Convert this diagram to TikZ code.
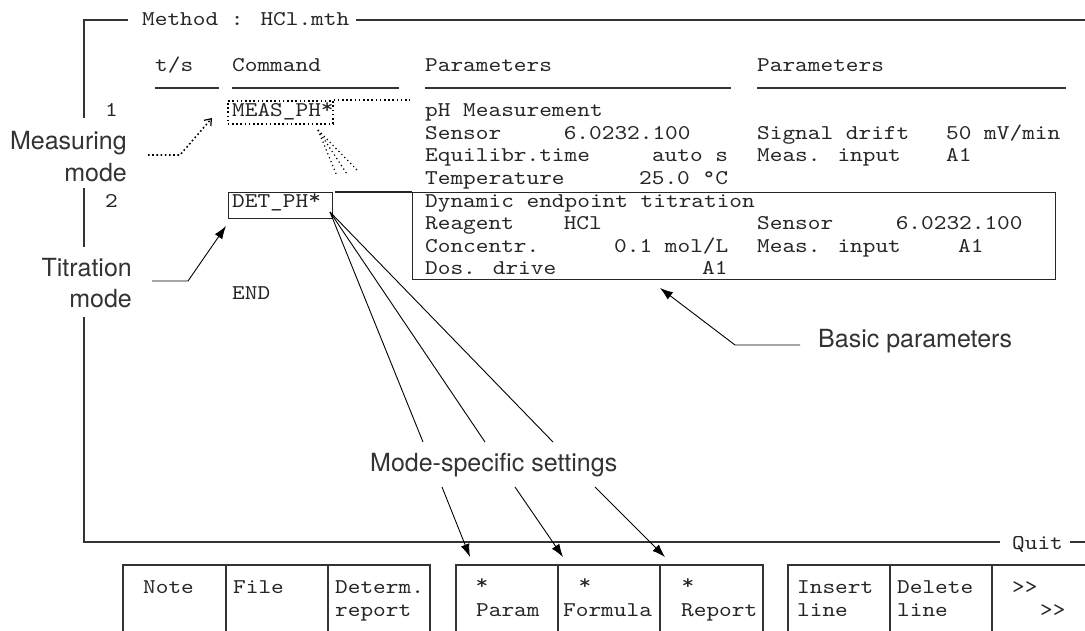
\documentclass[tikz,border=0pt]{standalone}
\usepackage{fontspec}
\setmainfont{TeX Gyre Heros}
\newfontfamily\monof[FakeStretch=1.15]{lmmono10-regular.otf}
\newcommand\hstar{\raisebox{3.5pt}{*}}
\usetikzlibrary{arrows.meta}
\tikzset{
  mono/.style={font=\monof\fontsize{21}{22}\selectfont, inner sep=0pt, anchor=base west, text=black!85},
  monoc/.style={mono, anchor=base},
  lbl/.style={font=\fontsize{25}{30}\selectfont, inner sep=0pt, text=black!80},
  frame/.style={line width=1.3pt, draw=black!80},
  uline/.style={line width=1.3pt, draw=black!80},
  boxd/.style={draw=black!85, line width=1.2pt, inner sep=0pt, anchor=north west},
  dotbox/.style={draw=black, line width=1.6pt, dash pattern=on 1.6pt off 2.6pt, inner sep=0pt, anchor=north west},
  dots/.style={line width=1.6pt, dash pattern=on 1.6pt off 2.6pt},
  thindots/.style={line width=1.2pt, dash pattern=on 1.2pt off 3pt},
  fan/.style={line width=0.9pt, draw=black},
  ptr/.style={line width=0.9pt, draw=black, -{Latex[length=13pt,width=9pt]}},
}
\begin{document}
\begin{tikzpicture}[x=1pt,y=-1pt]
\useasboundingbox[fill=white] (0,0) rectangle (1085,631);

% ---- outer frame
\coordinate (ftl) at (84,20);
\coordinate (ft1) at (128,20);
\coordinate (ft2) at (356,20);
\coordinate (ftr) at (1085,20);
\coordinate (fl1) at (84,118);
\coordinate (fl2) at (84,188);
\coordinate (fl3) at (84,247);
\coordinate (fl4) at (84,317);
\coordinate (fbl) at (84,542);
\coordinate (fb1) at (1000,542);
\coordinate (fb2) at (1070,542);
\coordinate (fbr) at (1085,542);
\draw[frame] (ft1) -- (ftl) -- (fl1);
\draw[frame] (ft2) -- (ftr);
\draw[frame] (fl2) -- (fl3);
\draw[frame] (fl4) -- (fbl) -- (fb1);
\draw[frame] (fb2) -- (fbr);
\node[mono] (title) at (142,26) {Method : HCl.mth};
\node[mono] (quit) at (1012,549) {Quit};

% ---- header
\node[mono] (hts) at (155,72) {t/s};
\node[mono] (hcmd) at (232,72) {Command};
\node[mono] (hp1) at (425,72) {Parameters};
\node[mono] (hp2) at (757,72) {Parameters};
\draw[uline] (155,88) -- (219,88);
\draw[uline] (232,88) -- (399,88);
\draw[uline] (425,88) -- (731,88);
\draw[uline] (757,88) -- (1066,88);

% ---- line numbers and commands
\node[mono] (n1) at (105,117) {1};
\node[mono] (n2) at (105,208) {2};
\node[dotbox, minimum width=105pt, minimum height=23pt] (measbox) at (227,100) {};
\node[mono] (meas) at (232,117) {MEAS\_PH\hstar};
\coordinate (measend) at (410,100);
\draw[dots] (measbox.north east) -- (measend);
\node[boxd, minimum width=104pt, minimum height=26pt] (detbox) at (228,192) {};
\node[mono] (det) at (232,208) {DET\_PH\hstar};
\node[mono] (endc) at (232,299) {END};

% ---- parameters of MEAS_PH
\node[mono] (p1a) at (425,117) {pH Measurement};
\node[mono] (p1b) at (425,139.5) {Sensor};
\node[mono] (p1bv) at (563.6,139.5) {6.0232.100};
\node[mono] (p1c) at (425,162) {Equilibr.time};
\node[mono] (p1cv) at (651.8,162) {auto s};
\node[mono] (p1d) at (425,184.5) {Temperature};
\node[mono] (p1dv) at (639,184.5) {25.0 °C};
\node[mono] (q1b) at (757,139.5) {Signal drift};
\node[mono] (q1bv) at (946,139.5) {50 mV/min};
\node[mono] (q1c) at (757,162) {Meas. input};
\node[mono] (q1cv) at (946,162) {A1};

% ---- parameters of DET_PH (basic parameter box)
\node[boxd, minimum width=643pt, minimum height=87pt] (basicbox) at (412,192) {};
\coordinate (detext) at (335,192);
\draw[boxd] (detext) -- (basicbox.north west);
\node[mono] (p2a) at (425,207.5) {Dynamic endpoint titration};
\node[mono] (p2b) at (425,230) {Reagent};
\node[mono] (p2bv) at (563.6,230) {HCl};
\node[mono] (p2c) at (425,252.5) {Concentr.};
\node[mono] (p2cv) at (614,252.5) {0.1 mol/L};
\node[mono] (p2d) at (425,275) {Dos. drive};
\node[mono] (p2dv) at (702,275) {A1};
\node[mono] (q2b) at (757,230) {Sensor};
\node[mono] (q2bv) at (895.6,230) {6.0232.100};
\node[mono] (q2c) at (757,252.5) {Meas. input};
\node[mono] (q2cv) at (958,252.5) {A1};

% ---- labels
\node[lbl, anchor=base east] (lm1) at (127,150) {Measuring};
\node[lbl, anchor=base east] (lm2) at (127,182) {mode};
\node[lbl, anchor=base east] (lt1) at (132,277) {Titration};
\node[lbl, anchor=base east] (lt2) at (132,308) {mode};
\node[lbl, anchor=base west] (lbasic) at (818,347) {Basic parameters};
\node[lbl, anchor=base west] (lmode) at (370,471) {Mode-specific settings};

% ---- measuring mode arrow (dotted)
\coordinate (mm0) at (148,155);
\coordinate (mm1) at (180,155);
\coordinate (mm2) at (212,118);
\draw[dots, -{Straight Barb[length=6pt,width=9pt,line width=1.2pt]}] (mm0) -- (mm1) -- (mm2);
% dotted fan below MEAS_PH*
\coordinate (mf0) at (318,130);
\coordinate (mf1) at (337,176);
\coordinate (mf2) at (347,174);
\coordinate (mf3) at (358,171);
\draw[thindots] (mf0) -- (mf1);
\draw[thindots] (mf0) -- (mf2);
\draw[thindots] (mf0) -- (mf3);

% ---- titration mode arrow
\coordinate (tm0) at (152,281);
\coordinate (tm1) at (188,281);
\coordinate (tm2) at (226,226);
\draw[ptr] (tm0) -- (tm1) -- (tm2);

% ---- basic parameters arrow
\coordinate (bp0) at (800,345);
\coordinate (bp1) at (735,345);
\coordinate (bp2) at (660,288);
\draw[ptr] (bp0) -- (bp1) -- (bp2);

% ---- mode-specific fan
\coordinate (df) at (330,212);
\coordinate (fe1) at (423,442);
\coordinate (fe2) at (485,442);
\coordinate (fe3) at (553,442);
\draw[fan] (df) -- (fe1);
\draw[fan] (df) -- (fe2);
\draw[fan] (df) -- (fe3);

% ---- soft keys
\coordinate (g1l) at (123,631); \coordinate (g1r) at (430,565);
\coordinate (g2l) at (456,631); \coordinate (g2r) at (763,565);
\coordinate (g3l) at (788,631); \coordinate (g3r) at (1094,565);
\draw[frame] (g1l) |- (g1r) -- (430,631);
\draw[frame] (226,565) -- (226,631);
\draw[frame] (328,565) -- (328,631);
\draw[frame] (g2l) |- (g2r) -- (763,631);
\draw[frame] (558,565) -- (558,631);
\draw[frame] (660,565) -- (660,631);
\draw[frame] (g3l) |- (g3r);
\draw[frame] (890,565) -- (890,631);
\draw[frame] (992,565) -- (992,631);

\node[mono] (kn) at (143,593) {Note};
\node[mono] (kf) at (233,593) {File};
\node[mono] (kd1) at (335,593) {Determ.};
\node[mono] (kd2) at (335,616) {report};
\node[monoc] (kp1) at (482,593) {\hstar};
\node[mono] (kp2) at (476,616) {Param};
\node[monoc] (kfo1) at (585,593) {\hstar};
\node[mono] (kfo2) at (563,616) {Formula};
\node[monoc] (kr1) at (688,593) {\hstar};
\node[mono] (kr2) at (681,616) {Report};
\node[mono] (ki1) at (797,593) {Insert};
\node[mono] (ki2) at (797,616) {line};
\node[mono] (kdl1) at (897,593) {Delete};
\node[mono] (kdl2) at (897,616) {line};
\node[mono] (km1) at (1012,593) {>{}>};
\node[mono] (km2) at (1040,616) {>{}>};

% ---- arrows to soft keys
\coordinate (a1s) at (442,487); \coordinate (a1e) at (470,557);
\coordinate (a2s) at (515,487); \coordinate (a2e) at (563,557);
\coordinate (a3s) at (595,487); \coordinate (a3e) at (665,557);
\draw[ptr] (a1s) -- (a1e);
\draw[ptr] (a2s) -- (a2e);
\draw[ptr] (a3s) -- (a3e);
\end{tikzpicture}
\end{document}
